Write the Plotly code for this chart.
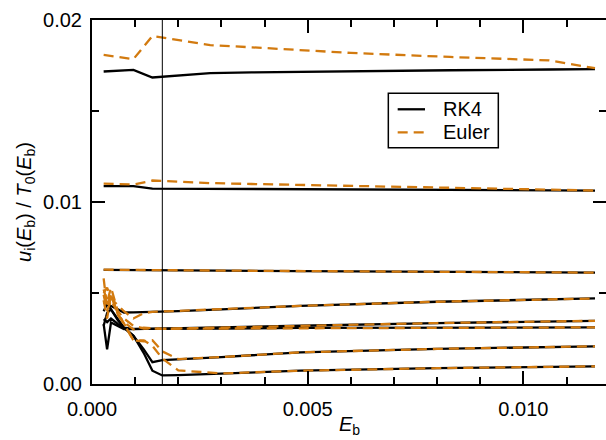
import plotly.graph_objects as go

# ---------------- data ----------------
# upper two curve pairs
x_top = [0.00027, 0.00096, 0.0014, 0.00274, 0.0037, 0.006, 0.0083, 0.0106, 0.01166]
rk4_1 = [0.01717, 0.01726, 0.01684, 0.01708, 0.01712, 0.01719, 0.01724, 0.01728, 0.01730]
eul_1 = [0.01808, 0.01785, 0.01912, 0.01862, 0.01850, 0.01819, 0.01797, 0.01778, 0.01735]
rk4_2 = [0.01087, 0.01087, 0.01074, 0.01073, 0.01072, 0.01070, 0.01068, 0.01065, 0.01063]
eul_2 = [0.01101, 0.01096, 0.01118, 0.01104, 0.01099, 0.01088, 0.01078, 0.01070, 0.01063]

# lower curve pairs
x_low = [0.00027, 0.00035, 0.00044, 0.00060, 0.00074, 0.00096, 0.00120, 0.00140,
         0.00163, 0.00200, 0.00300, 0.00483, 0.00800, 0.01166]
rk4_A = [0.00627, 0.00627, 0.00627, 0.00627, 0.00626, 0.00626, 0.00626, 0.00626,
         0.00625, 0.00625, 0.00623, 0.00620, 0.00616, 0.00612]
eul_A = [0.00628, 0.00628, 0.00628, 0.00627, 0.00627, 0.00627, 0.00626, 0.00626,
         0.00626, 0.00625, 0.00623, 0.00620, 0.00616, 0.00612]
rk4_B = [0.00448, 0.00440, 0.00429, 0.00410, 0.00393, 0.00394, 0.00395, 0.00396,
         0.00396, 0.00400, 0.00410, 0.00429, 0.00452, 0.00470]
eul_B = [0.00500, 0.00530, 0.00470, 0.00430, 0.00400, 0.00360, 0.00390, 0.00396,
         0.00398, 0.00400, 0.00410, 0.00429, 0.00452, 0.00470]
rk4_C = [0.00329, 0.00190, 0.00338, 0.00320, 0.00302, 0.00302, 0.00303, 0.00303,
         0.00303, 0.00305, 0.00310, 0.00320, 0.00335, 0.00347]
eul_C = [0.00580, 0.00420, 0.00500, 0.00380, 0.00340, 0.00300, 0.00310, 0.00305,
         0.00303, 0.00305, 0.00310, 0.00320, 0.00335, 0.00347]
rk4_F = [0.00356, 0.00340, 0.00360, 0.00330, 0.00310, 0.00303, 0.00303, 0.00303,
         0.00303, 0.00304, 0.00305, 0.00308, 0.00310, 0.00311]
eul_F = [0.00520, 0.00450, 0.00530, 0.00400, 0.00360, 0.00320, 0.00305, 0.00303,
         0.00303, 0.00304, 0.00305, 0.00308, 0.00310, 0.00311]
rk4_D = [0.00400, 0.00440, 0.00410, 0.00350, 0.00310, 0.00265, 0.00190, 0.00120,
         0.00131, 0.00135, 0.00148, 0.00174, 0.00193, 0.00207]
eul_D = [0.00460, 0.00360, 0.00490, 0.00380, 0.00330, 0.00240, 0.00235, 0.00240,
         0.00179, 0.00137, 0.00148, 0.00174, 0.00193, 0.00207]
rk4_E = [0.00320, 0.00390, 0.00410, 0.00360, 0.00310, 0.00265, 0.00170, 0.00073,
         0.00047, 0.00049, 0.00057, 0.00073, 0.00087, 0.00097]
eul_E = [0.00490, 0.00400, 0.00460, 0.00390, 0.00330, 0.00240, 0.00240, 0.00210,
         0.00140, 0.00075, 0.00058, 0.00073, 0.00087, 0.00097]

vline_x = 0.00163
x_ticks = [0.0, 0.005, 0.010]
x_ticklabels = ["0.000", "0.005", "0.010"]
y_ticks = [0.0, 0.01, 0.02]
y_ticklabels = ["0.00", "0.01", "0.02"]
legend_names = ["RK4", "Euler"]

BLACK = "black"
ORANGE = "rgb(210,122,15)"
FONT = "Liberation Sans, Arial, Helvetica, sans-serif"
EULER_DASH = "10px,6px"

fig = go.Figure()

rk4_sets = [(x_top, rk4_1), (x_top, rk4_2), (x_low, rk4_A), (x_low, rk4_B),
            (x_low, rk4_C), (x_low, rk4_F), (x_low, rk4_D), (x_low, rk4_E)]
eul_sets = [(x_top, eul_1), (x_top, eul_2), (x_low, eul_A), (x_low, eul_B),
            (x_low, eul_C), (x_low, eul_F), (x_low, eul_D), (x_low, eul_E)]

for xs, ys in rk4_sets:
    fig.add_trace(go.Scatter(x=xs, y=ys, mode="lines", name=legend_names[0],
                             line=dict(color=BLACK, width=2.3), showlegend=False))
for xs, ys in eul_sets:
    fig.add_trace(go.Scatter(x=xs, y=ys, mode="lines", name=legend_names[1],
                             line=dict(color=ORANGE, width=2.3, dash=EULER_DASH),
                             showlegend=False))

# right-side mirrored ticks (axis line itself is off-canvas in the reference)
fig.add_trace(go.Scatter(x=[None], y=[None], yaxis="y2", showlegend=False))

fig.add_shape(type="line", x0=vline_x, x1=vline_x, y0=0, y1=1, xref="x", yref="paper",
              line=dict(color=BLACK, width=1))

# ---- legend box (compact, as in the reference) ----
fig.add_shape(type="rect", xref="paper", yref="paper",
              x0=0.5765, x1=0.7905, y0=0.649, y1=0.7986,
              line=dict(color=BLACK, width=1.5), fillcolor="white", layer="above")
for name, col, dash, yp in [(legend_names[0], BLACK, "solid", 0.7547),
                            (legend_names[1], ORANGE, EULER_DASH, 0.6915)]:
    fig.add_shape(type="line", xref="paper", yref="paper",
                  x0=0.5947, x1=0.6479, y0=yp, y1=yp, layer="above",
                  line=dict(color=col, width=2.3, dash=dash))
    fig.add_annotation(text=name, xref="paper", yref="paper", x=0.679, y=yp,
                       xanchor="left", yanchor="middle", showarrow=False,
                       font=dict(size=20, color=BLACK))

# ---- x axis title ----
fig.add_annotation(text="<i>E</i><sub>b</sub>", xref="paper", yref="paper",
                   x=0.5, y=-0.1538, xanchor="center", yanchor="bottom",
                   showarrow=False, font=dict(size=20, color=BLACK))

fig.update_layout(
    width=606, height=440,
    margin=dict(l=92, r=0, t=20, b=56),
    paper_bgcolor="white", plot_bgcolor="white",
    font=dict(family=FONT, size=20, color="black"),
    showlegend=False,
    xaxis=dict(range=[0, 0.011915], showgrid=False, zeroline=False, automargin=False,
               showline=True, linecolor="black", linewidth=2, mirror="ticks",
               ticks="inside", ticklen=13, tickwidth=2, tickcolor="black",
               tickvals=x_ticks, ticktext=x_ticklabels,
               tickfont=dict(size=20), ticklabelstandoff=6,
               minor=dict(dtick=0.001, tick0=0, ticks="inside", ticklen=7,
                          tickwidth=2, tickcolor="black", showgrid=False)),
    yaxis=dict(range=[0, 0.02], showgrid=False, zeroline=False, automargin=False,
               showline=True, linecolor="black", linewidth=2, mirror=False,
               ticks="inside", ticklen=13, tickwidth=2, tickcolor="black",
               tickvals=y_ticks, ticktext=y_ticklabels,
               tickfont=dict(size=20), ticklabelstandoff=4,
               minor=dict(dtick=0.005, tick0=0, ticks="inside", ticklen=7,
                          tickwidth=2, tickcolor="black", showgrid=False),
               title=dict(text="<i>u</i><sub>i</sub>(<i>E</i><sub>b</sub>) / <i>T</i><sub>0</sub>(<i>E</i><sub>b</sub>)",
                          font=dict(size=20), standoff=6)),
    yaxis2=dict(range=[0, 0.02], overlaying="y", side="right", showgrid=False,
                zeroline=False, showline=False, showticklabels=False, automargin=False,
                ticks="inside", ticklen=13, tickwidth=2, tickcolor="black",
                tickvals=y_ticks,
                minor=dict(dtick=0.005, tick0=0, ticks="inside", ticklen=7,
                           tickwidth=2, tickcolor="black", showgrid=False)),
)

fig.write_html("out.html")
